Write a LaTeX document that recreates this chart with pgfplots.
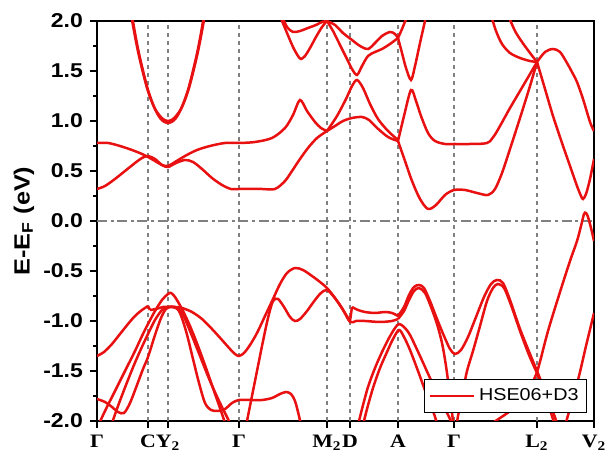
\documentclass[border=0pt]{standalone}
\usepackage{fontspec}
\setmainfont[FakeStretch=1.15]{Liberation Sans}
\newfontfamily\timesfont[FakeStretch=1.15]{Liberation Serif}
\usepackage{pgfplots}
\pgfplotsset{compat=1.18}
\definecolor{bandred}{RGB}{232,16,16}
\definecolor{kgray}{RGB}{128,128,128}
\pgfplotsset{
  band/.style={color=bandred, line width=1.25pt, smooth, tension=0.5, mark=none},
  kline/.style={color=kgray, line width=0.7pt, dash pattern=on 2pt off 2pt, forget plot, mark=none},
}
\begin{document}
\begin{tikzpicture}
\begin{axis}[
  width=248.5pt, height=200pt, scale only axis,
  xmin=97, xmax=594, ymin=-2, ymax=2,
  axis line style={line width=1.2pt},
  xtick={97,148,168,239,327,350,398,454,537,594},
  xticklabels={Γ,C,Y\textsubscript{2},Γ,M\textsubscript{2},D,A,Γ,L\textsubscript{2},V\textsubscript{2}},
  xticklabel style={font=\timesfont\bfseries\fontsize{9.5}{10}\selectfont},
  ytick={-2,-1.5,-1,-0.5,0,0.5,1,1.5,2},
  minor y tick num=1,
  /pgf/number format/assume math mode=true,
  yticklabel style={font=\bfseries\fontsize{10}{11}\selectfont,
    /pgf/number format/fixed, /pgf/number format/fixed zerofill, /pgf/number format/precision=1},
  tick align=outside, tick pos=left,
  major tick length=3.5pt, minor tick length=2pt,
  tick style={line width=1pt, black},
  ylabel={E-E\textsubscript{F} (eV)},
  ylabel style={font=\bfseries\fontsize{11}{12}\selectfont, at={(axis description cs:0,0.5)}, anchor=center, yshift=36.5pt},
  legend style={at={(0.986,0.02)}, anchor=south east, draw=black, line width=0.5pt,
    font=\fontsize{8.6}{10}\selectfont, inner xsep=2pt, inner ysep=2.5pt, fill=white},
  legend cell align=left,
  legend image code/.code={\draw[bandred, line width=1.25pt] (0pt,0pt) -- (22pt,0pt);},
]
\coordinate (bl) at (rel axis cs:0,0);
\coordinate (tr) at (rel axis cs:1,1);
% k-point lines
\addplot[kline] coordinates {(148,-2)(148,2)};
\addplot[kline] coordinates {(168,-2)(168,2)};
\addplot[kline] coordinates {(239,-2)(239,2)};
\addplot[kline] coordinates {(327,-2)(327,2)};
\addplot[kline] coordinates {(350,-2)(350,2)};
\addplot[kline] coordinates {(398,-2)(398,2)};
\addplot[kline] coordinates {(454,-2)(454,2)};
\addplot[kline] coordinates {(537,-2)(537,2)};
\addplot[color=kgray, line width=0.8pt, dash pattern=on 5pt off 1.8pt on 1.5pt off 1.8pt, forget plot] coordinates {(97,0)(594,0)};
% ---- conduction bands
\addplot[band] coordinates {(97,0.32)(105,0.35)(115,0.42)(125,0.50)(135,0.58)(142,0.63)(148,0.65)(155,0.62)(162,0.56)(168,0.54)(176,0.58)(185,0.61)(193,0.59)(202,0.52)(212,0.43)(222,0.36)(231,0.32)(239,0.32)(250,0.32)(262,0.32)(275,0.32)(285,0.40)(292,0.50)(300,0.62)(308,0.73)(317,0.83)(327,0.90)};
\addlegendentry{HSE06+D3}
\addplot[band] coordinates {(97,0.78)(108,0.78)(120,0.75)(132,0.71)(142,0.67)(148,0.64)(155,0.60)(162,0.56)(168,0.55)(175,0.59)(185,0.65)(197,0.71)(210,0.75)(225,0.78)(239,0.78)(255,0.79)(272,0.83)(285,0.93)(293,1.06)(300,1.21)(307,1.10)(315,0.99)(321,0.93)(327,0.90)};
\addplot[band] coordinates {(327,0.90)(337,1.05)(346,1.22)(352,1.35)(357,1.41)(363,1.33)(370,1.17)(378,1.02)(388,0.90)(398,0.81)};
\addplot[band] coordinates {(327,0.90)(335,0.95)(343,1.0)(352,1.03)(362,1.04)(369,1.01)(376,0.94)(388,0.84)(398,0.80)};
\addplot[band] coordinates {(398,0.80)(404,1.05)(411,1.31)(416,1.20)(421,1.05)(428,0.88)(435,0.80)(445,0.77)(454,0.77)(470,0.77)(487,0.78)(494,0.85)(500,0.95)(510,1.13)(520,1.30)(530,1.47)(537,1.59)};
\addplot[band] coordinates {(398,0.80)(405,0.60)(412,0.40)(420,0.22)(428,0.12)(436,0.16)(445,0.26)(454,0.31)(465,0.31)(477,0.28)(488,0.26)(495,0.32)(502,0.48)(510,0.72)(520,1.03)(530,1.35)(537,1.59)};
\addplot[band] coordinates {(537,1.59)(545,1.69)(553,1.72)(560,1.69)(567,1.58)(573,1.47)(577,1.39)(583,1.22)(590,0.99)(594,0.90)};
\addplot[band] coordinates {(537,1.59)(545,1.32)(553,1.05)(562,0.78)(570,0.55)(577,0.35)(581,0.25)(583,0.22)(586,0.27)(590,0.42)(594,0.62)};
\addplot[band] coordinates {(130,2.18)(135,1.88)(140,1.63)(148,1.31)(155,1.12)(160,1.03)(164,0.993)(168,0.98)(172,0.993)(176,1.03)(181,1.12)(188,1.31)(196,1.63)(201,1.88)(206,2.18)};
\addplot[band] coordinates {(129,2.18)(134,1.90)(139,1.65)(147,1.33)(154,1.14)(160,1.05)(164,1.013)(168,1.00)(172,1.013)(176,1.05)(182,1.14)(189,1.33)(197,1.65)(202,1.90)(207,2.18)};
\addplot[band] coordinates {(280,2.05)(287,1.88)(293,1.74)(298,1.65)(301,1.62)(305,1.65)(310,1.73)(316,1.84)(322,1.94)(327,2.0)};
\addplot[band] coordinates {(282,2.05)(287,1.94)(293,1.89)(300,1.90)(308,1.93)(316,1.96)(322,1.99)(327,2.0)};
\addplot[band] coordinates {(327,2.0)(333,1.9)(340,1.76)(347,1.62)(352,1.52)(357,1.46)(362,1.55)(368,1.65)(375,1.69)(382,1.72)(390,1.77)(398,1.83)};
\addplot[band] coordinates {(327,2.0)(335,1.96)(343,1.88)(352,1.81)(360,1.75)(368,1.72)(375,1.78)(382,1.85)(390,1.89)(395,1.87)(398,1.83)};
\addplot[band] coordinates {(398,1.83)(402,1.92)(406,2.02)(408,2.08)};
\addplot[band] coordinates {(398,1.83)(402,1.68)(406,1.53)(411,1.41)(415,1.55)(420,1.78)(425,2.0)(427,2.08)};
\addplot[band] coordinates {(491,2.06)(496,1.9)(502,1.77)(510,1.68)(520,1.63)(530,1.60)(537,1.59)};
\addplot[band] coordinates {(508,2.06)(515,1.9)(522,1.79)(530,1.68)(537,1.59)};
% ---- valence bands
\addplot[band] coordinates {(97,-1.35)(104,-1.31)(112,-1.23)(120,-1.13)(128,-1.03)(135,-0.95)(142,-0.89)(148,-0.85)};
\addplot[color=bandred, line width=1.25pt] coordinates {(148,-0.85)(150,-0.89)};
\addplot[band] coordinates {(150,-0.89)(156,-0.88)(163,-0.86)(168,-0.86)(175,-0.86)(182,-0.87)(192,-0.91)(202,-0.98)(212,-1.08)(222,-1.19)(230,-1.28)(235,-1.33)(239,-1.35)(244,-1.32)(250,-1.24)(257,-1.12)(265,-0.95)(273,-0.78)(280,-0.63)(287,-0.52)(295,-0.47)(303,-0.49)(312,-0.55)(320,-0.61)(327,-0.67)(335,-0.77)(343,-0.89)(350,-1.0)};
\addplot[color=bandred, line width=1.25pt] coordinates {(350,-1.0)(352,-0.86)};
\addplot[band] coordinates {(352,-0.86)(358,-0.89)(365,-0.91)(375,-0.92)(385,-0.91)(392,-0.92)(398,-0.95)};
\addplot[band] coordinates {(398,-0.95)(404,-0.86)(409,-0.74)(414,-0.66)(419,-0.64)(424,-0.67)(430,-0.80)(437,-0.98)(444,-1.15)(450,-1.28)(455,-1.33)(461,-1.29)(468,-1.16)(476,-0.96)(484,-0.76)(491,-0.63)(497,-0.59)(503,-0.62)(510,-0.79)(520,-1.08)(530,-1.33)(537,-1.50)};
\addplot[band] coordinates {(537,-1.50)(545,-1.70)(552,-1.88)(558,-2.05)};
\addplot[band] coordinates {(245,-2.1)(250,-1.85)(256,-1.55)(262,-1.25)(268,-0.97)(273,-0.80)(278,-0.78)(284,-0.86)(290,-0.96)(295,-1.0)(300,-0.98)(307,-0.9)(315,-0.79)(321,-0.72)(327,-0.69)(334,-0.76)(342,-0.87)(350,-1.01)(356,-1.0)(365,-1.0)(380,-1.01)(392,-1.0)(398,-0.98)};
\addplot[band] coordinates {(398,-0.98)(404,-0.9)(409,-0.79)(414,-0.70)(419,-0.67)(425,-0.72)(431,-0.86)(437,-1.03)(442,-1.22)(446,-1.45)(450,-1.75)(453,-2.0)(455,-2.15)};
\addplot[band] coordinates {(455,-2.15)(458,-1.95)(462,-1.75)(467,-1.5)(473,-1.3)(480,-1.05)(487,-0.8)(493,-0.67)(498,-0.63)(504,-0.67)(511,-0.84)(520,-1.1)(529,-1.34)(537,-1.52)};
\addplot[band] coordinates {(537,-1.52)(544,-1.72)(551,-1.92)(555,-2.05)};
\addplot[band] coordinates {(98,-2.05)(105,-1.9)(115,-1.7)(125,-1.5)(135,-1.3)(142,-1.15)(148,-1.03)(155,-0.9)(162,-0.79)(168,-0.73)(171,-0.72)(175,-0.76)(182,-0.88)(190,-1.05)(198,-1.25)(206,-1.47)(214,-1.7)(221,-1.9)(226,-2.05)};
\addplot[band] coordinates {(111,-2.05)(118,-1.85)(126,-1.64)(134,-1.44)(141,-1.28)(148,-1.13)(155,-0.99)(162,-0.89)(168,-0.86)(175,-0.86)(182,-0.92)(190,-1.1)(200,-1.35)(210,-1.6)(220,-1.82)(228,-1.98)(231,-2.05)};
\addplot[band] coordinates {(97,-1.78)(105,-1.81)(112,-1.86)(118,-1.91)(124,-1.92)(130,-1.82)(137,-1.64)(143,-1.48)(148,-1.36)(155,-1.14)(161,-0.97)(166,-0.88)(172,-0.86)(179,-0.9)(186,-1.1)(193,-1.38)(199,-1.62)(205,-1.82)(211,-1.89)(218,-1.90)(225,-1.88)(232,-1.82)(239,-1.79)(250,-1.79)(262,-1.79)(272,-1.77)(280,-1.73)(286,-1.71)(291,-1.73)(295,-1.8)(299,-1.95)(301,-2.05)};
\addplot[band] coordinates {(357,-2.08)(362,-1.88)(368,-1.66)(375,-1.47)(382,-1.31)(389,-1.17)(395,-1.07)(399,-1.03)(404,-1.06)(410,-1.14)(420,-1.35)(430,-1.57)(440,-1.78)(450,-1.98)(453,-2.05)};
\addplot[band] coordinates {(362,-2.08)(367,-1.88)(373,-1.67)(380,-1.47)(387,-1.31)(393,-1.18)(399,-1.09)(404,-1.16)(410,-1.29)(418,-1.5)(426,-1.72)(433,-1.9)(438,-2.05)};
\addplot[band] coordinates {(488,-2.05)(500,-1.97)(510,-1.9)(520,-1.8)(528,-1.69)(537,-1.51)(548,-1.1)(560,-0.71)(570,-0.4)(577,-0.2)(581,-0.05)(584,0.07)(586,0.08)(588,0.04)(591,-0.07)(594,-0.2)};
\addplot[band] coordinates {(565,-2.05)(572,-1.8)(579,-1.55)(586,-1.25)(594,-0.92)};
\end{axis}
\pgfresetboundingbox
\path[use as bounding box] ([xshift=-48.5pt,yshift=-18.5pt]bl) rectangle ([xshift=7pt,yshift=10.5pt]tr);
\end{tikzpicture}
\end{document}
